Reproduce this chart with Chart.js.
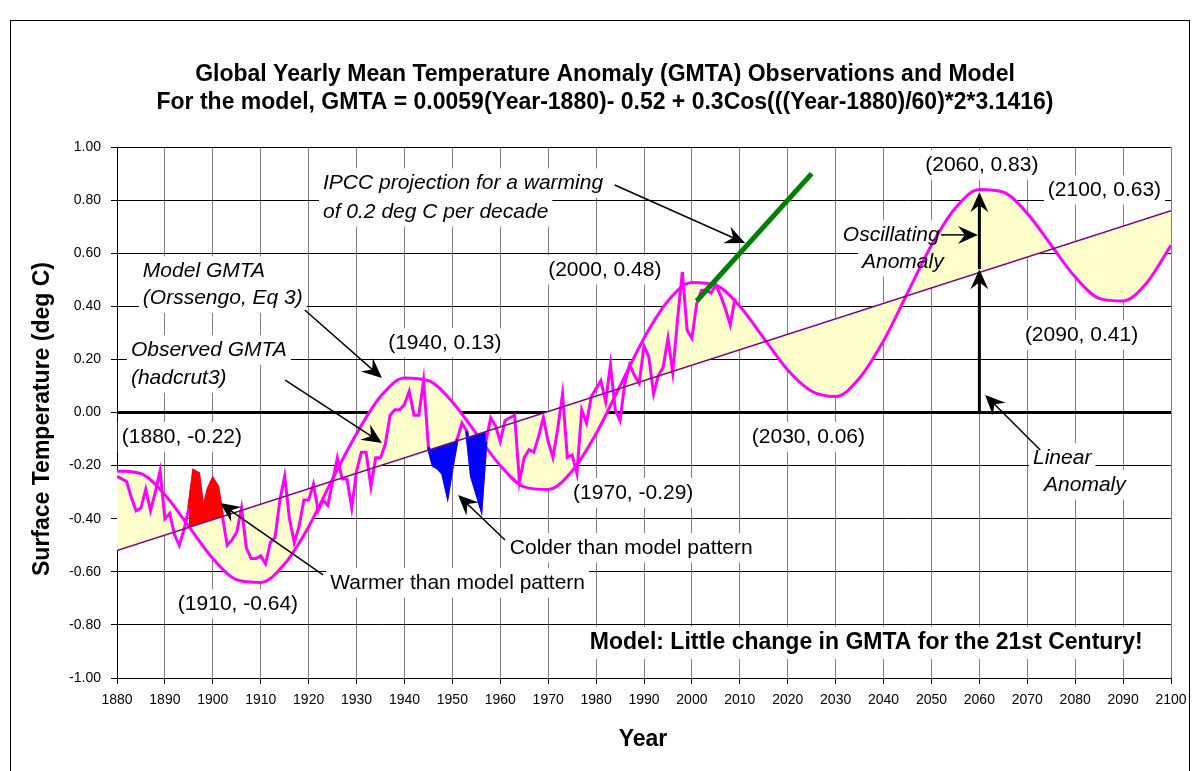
<!DOCTYPE html>
<html>
<head>
<meta charset="utf-8">
<script src="https://cdn.jsdelivr.net/npm/chart.js@4.4.0/dist/chart.umd.min.js"></script>
<style>
  html, body { margin: 0; padding: 0; background: #fff; }
</style>
</head>
<body>
<canvas id="myChart" width="1196" height="771"></canvas>
<script>
// observed GMTA (hadcrut3), one value per year from 1880
const obsStart = 1880;
const obsValues = [
  -0.24, -0.25, -0.26, -0.32, -0.37, -0.36, -0.29, -0.37, -0.30, -0.22,
  -0.40, -0.38, -0.46, -0.50, -0.44, -0.36, -0.22, -0.23, -0.37, -0.29,
  -0.25, -0.28, -0.39, -0.50, -0.48, -0.45, -0.36, -0.51, -0.55, -0.55,
  -0.54, -0.57, -0.49, -0.47, -0.33, -0.24, -0.40, -0.49, -0.43, -0.33,
  -0.33, -0.27, -0.37, -0.33, -0.35, -0.26, -0.17, -0.25, -0.25, -0.36,
  -0.22, -0.15, -0.15, -0.28, -0.17, -0.17, -0.12, -0.01, 0.01, 0.01,
  0.03, 0.08, -0.01, -0.01, 0.12, -0.13, -0.20, -0.21, -0.23, -0.31,
  -0.20, -0.10, -0.04, -0.07, -0.24, -0.30, -0.36, -0.11, -0.02, -0.05,
  -0.11, -0.03, -0.02, -0.01, -0.26, -0.17, -0.14, -0.15, -0.09, -0.02,
  -0.11, -0.17, -0.06, 0.07, -0.17, -0.16, -0.23, 0.01, -0.04, 0.06,
  0.09, 0.12, 0.04, 0.18, 0.01, -0.03, 0.11, 0.18, 0.14, 0.11,
  0.25, 0.21, 0.07, 0.14, 0.17, 0.28, 0.15, 0.35, 0.53, 0.31,
  0.28, 0.41, 0.46, 0.46, 0.45, 0.48, 0.44, 0.39, 0.33, 0.43
];

// model GMTA read every 5 years from 1880 to 2100
const modelStart = 1880;
const modelStep = 5;
const modelValues = [
  -0.22, -0.23, -0.31, -0.43, -0.55, -0.63, -0.64, -0.57, -0.43, -0.25,
  -0.08, 0.06, 0.13, 0.12, 0.04, -0.08, -0.20, -0.28, -0.29, -0.22,
  -0.08, 0.10, 0.28, 0.42, 0.49, 0.48, 0.40, 0.28, 0.16, 0.08,
  0.06, 0.13, 0.27, 0.45, 0.63, 0.77, 0.84, 0.83, 0.75, 0.63,
  0.51, 0.43, 0.42, 0.49, 0.63
];

// linear anomaly line
const linearYears = [1880, 2100];
const linearValues = [-0.52, 0.76];

// IPCC projection, 0.2 deg C per decade
const ipccYears = [2001, 2025];
const ipccValues = [0.42, 0.90];

// highlighted patterns
const warmYears = [1895, 1902];
const coldYears1 = [1945, 1951];
const coldYears2 = [1953, 1957];

const FONT = "'Liberation Sans', Arial, Helvetica, sans-serif";

function obsPoints(from, to) {
  const pts = [];
  obsValues.forEach((v, i) => {
    const yr = obsStart + i;
    if (yr >= from && yr <= to) pts.push({ x: yr, y: v });
  });
  return pts;
}
const observed = obsPoints(1880, 2100);
const model = modelValues.map((v, i) => ({ x: modelStart + i * modelStep, y: v }));
const linear = linearYears.map((yr, i) => ({ x: yr, y: linearValues[i] }));
const ipcc = ipccYears.map((yr, i) => ({ x: yr, y: ipccValues[i] }));

// annotation texts, positions in data units (year, deg C)
const notes = [
  { text: "IPCC projection for a warming", x: 1923, y: 0.864, style: "italic" },
  { text: "of 0.2 deg C per decade", x: 1923, y: 0.755, style: "italic" },
  { text: "Model GMTA", x: 1885.4, y: 0.533, style: "italic" },
  { text: "(Orssengo, Eq 3)", x: 1885.4, y: 0.431, style: "italic" },
  { text: "Observed GMTA", x: 1882.9, y: 0.235, style: "italic" },
  { text: "(hadcrut3)", x: 1882.9, y: 0.13, style: "italic" },
  { text: "(1940, 0.13)", x: 1936.6, y: 0.262 },
  { text: "(2000, 0.48)", x: 1970, y: 0.537 },
  { text: "(1880, -0.22)", x: 1881, y: -0.092 },
  { text: "(1910, -0.64)", x: 1892.7, y: -0.721 },
  { text: "(1970, -0.29)", x: 1975.2, y: -0.303 },
  { text: "(2030, 0.06)", x: 2012.5, y: -0.092 },
  { text: "(2060, 0.83)", x: 2048.7, y: 0.932 },
  { text: "(2100, 0.63)", x: 2074.3, y: 0.838 },
  { text: "(2090, 0.41)", x: 2069.5, y: 0.292 },
  { text: "Oscillating", x: 2031.5, y: 0.669, style: "italic" },
  { text: "Anomaly", x: 2035.5, y: 0.567, style: "italic" },
  { text: "Linear", x: 2071.2, y: -0.171, style: "italic" },
  { text: "Anomaly", x: 2073.5, y: -0.273, style: "italic" },
  { text: "Warmer than model pattern", x: 1924.5, y: -0.642 },
  { text: "Colder than model pattern", x: 1962, y: -0.51 },
  { text: "Model: Little change in GMTA for the 21st Century!", x: 1978.7, y: -0.868, style: "bold", size: 23 }
];

const arrows = [
  { x1: 1983.9, y1: 0.857, x2: 2011.1, y2: 0.638 },
  { x1: 1919.2, y1: 0.386, x2: 1935.3, y2: 0.13 },
  { x1: 1915.1, y1: 0.122, x2: 1935.3, y2: -0.115 },
  { x1: 1923, y1: -0.612, x2: 1901.5, y2: -0.341 },
  { x1: 1961, y1: -0.48, x2: 1951.2, y2: -0.311 },
  { x1: 2052, y1: 0.669, x2: 2059.7, y2: 0.669 },
  { x1: 2072.7, y1: -0.141, x2: 2061.2, y2: 0.066 },
  { x1: 2060, y1: 0, x2: 2060, y2: 0.54 },
  { x1: 2060, y1: 0.54, x2: 2060, y2: 0.83 }
];

function noteFont(n) {
  const size = n.size || 21;
  return (n.style ? n.style + " " : "") + size + "px " + FONT;
}

const textBoxes = {
  id: "textBoxes",
  beforeDatasetsDraw(chart) {
    const ctx = chart.ctx;
    const xs = chart.scales.x, ys = chart.scales.y;
    ctx.save();
    ctx.fillStyle = "#fff";
    notes.forEach((n) => {
      ctx.font = noteFont(n);
      const w = ctx.measureText(n.text).width;
      const size = n.size || 21;
      const px = xs.getPixelForValue(n.x);
      const py = ys.getPixelForValue(n.y);
      ctx.fillRect(px - 4, py - size * 0.7, w + 8, size * 1.4);
    });
    ctx.restore();
  },
  afterDraw(chart) {
    const ctx = chart.ctx;
    const xs = chart.scales.x, ys = chart.scales.y;
    ctx.save();
    ctx.fillStyle = "#000";
    ctx.textBaseline = "middle";
    ctx.textAlign = "left";
    notes.forEach((n) => {
      ctx.font = noteFont(n);
      ctx.fillText(n.text, xs.getPixelForValue(n.x), ys.getPixelForValue(n.y));
    });

    // arrows
    ctx.strokeStyle = "#000";
    arrows.forEach((a) => {
      const x1 = xs.getPixelForValue(a.x1), y1 = ys.getPixelForValue(a.y1);
      const x2 = xs.getPixelForValue(a.x2), y2 = ys.getPixelForValue(a.y2);
      const ang = Math.atan2(y2 - y1, x2 - x1);
      const len = 20, half = 9;
      ctx.lineWidth = (a.x1 === a.x2) ? 3 : 1.5;
      ctx.beginPath();
      ctx.moveTo(x1, y1);
      ctx.lineTo(x2 - Math.cos(ang) * 10, y2 - Math.sin(ang) * 10);
      ctx.stroke();
      const bx = x2 - Math.cos(ang) * len, by = y2 - Math.sin(ang) * len;
      const nx = x2 - Math.cos(ang) * len * 0.65, ny = y2 - Math.sin(ang) * len * 0.65;
      ctx.beginPath();
      ctx.moveTo(x2, y2);
      ctx.lineTo(bx + Math.sin(ang) * half, by - Math.cos(ang) * half);
      ctx.lineTo(nx, ny);
      ctx.lineTo(bx - Math.sin(ang) * half, by + Math.cos(ang) * half);
      ctx.closePath();
      ctx.fill();
    });

    // titles
    ctx.textAlign = "center";
    ctx.font = "bold 23px " + FONT;
    ctx.fillText("Global Yearly Mean Temperature Anomaly (GMTA) Observations and Model", 605, 75);
    ctx.fillText("For the model, GMTA = 0.0059(Year-1880)- 0.52 + 0.3Cos(((Year-1880)/60)*2*3.1416)", 605, 103);
    ctx.fillText("Year", 643, 740);
    ctx.translate(43, 419);
    ctx.rotate(-Math.PI / 2);
    ctx.fillText("Surface Temperature (deg C)", 0, 0);
    ctx.restore();

    // outer frame
    ctx.save();
    ctx.strokeStyle = "#000";
    ctx.lineWidth = 1;
    ctx.strokeRect(10.5, 20.5, 1179, 800);
    ctx.restore();
  }
};

const whiteBg = {
  id: "whiteBg",
  beforeDraw(chart) {
    const ctx = chart.ctx;
    ctx.save();
    ctx.fillStyle = "#fff";
    ctx.fillRect(0, 0, chart.width, chart.height);
    ctx.restore();
  }
};

const ctx = document.getElementById("myChart");
const myChart = new Chart(ctx, {
  type: "line",
  data: {
    datasets: [
      {
        label: "Linear",
        data: linear,
        borderColor: "#800080",
        borderWidth: 1.5,
        pointRadius: 0,
        fill: false,
        order: 2,
      },
      {
        label: "Model GMTA",
        data: model,
        borderColor: "#FF00FF",
        borderWidth: 3,
        pointRadius: 0,
        cubicInterpolationMode: "monotone",
        fill: { target: 0, above: "#FFFFCC", below: "#FFFFCC" },
        order: 10,
      },
      {
        label: "Observed GMTA",
        data: observed,
        borderColor: "#FF00FF",
        borderWidth: 3,
        pointRadius: 0,
        fill: false,
        order: 5,
      },
      {
        label: "Warmer",
        data: obsPoints(warmYears[0], warmYears[1]),
        borderColor: "#FF0000",
        borderWidth: 3,
        pointRadius: 0,
        fill: { target: 0, above: "#FF0000", below: "rgba(0,0,0,0)" },
        order: 4,
      },
      {
        label: "Colder 1",
        data: obsPoints(coldYears1[0], coldYears1[1]),
        borderColor: "#0000FF",
        borderWidth: 3,
        pointRadius: 0,
        fill: { target: 0, above: "rgba(0,0,0,0)", below: "#0000FF" },
        order: 4,
      },
      {
        label: "Colder 2",
        data: obsPoints(coldYears2[0], coldYears2[1]),
        borderColor: "#0000FF",
        borderWidth: 3,
        pointRadius: 0,
        fill: { target: 0, above: "rgba(0,0,0,0)", below: "#0000FF" },
        order: 4,
      },
      {
        label: "IPCC",
        data: ipcc,
        borderColor: "#008000",
        borderWidth: 5,
        pointRadius: 0,
        fill: false,
        order: 1,
      },
    ],
  },
  options: {
    responsive: false,
    animation: false,
    layout: { padding: { top: 147, right: 25, left: 0, bottom: 0 } },
    plugins: {
      legend: { display: false },
      tooltip: { enabled: false },
      title: { display: false },
    },
    scales: {
      x: {
        type: "linear",
        min: 1880,
        max: 2100,
        afterFit: (s) => { s.height = 93; },
        ticks: {
          stepSize: 10,
          color: "#000",
          font: { family: FONT, size: 14 },
          padding: 8,
          maxRotation: 0,
          callback: (v) => String(v),
        },
        grid: { color: "#808080", tickColor: "#000", tickLength: 6, lineWidth: 1 },
        border: { color: "#000", width: 1 },
      },
      y: {
        min: -1,
        max: 1,
        afterFit: (s) => { s.width = 117; },
        ticks: {
          stepSize: 0.2,
          color: "#000",
          font: { family: FONT, size: 14 },
          padding: 10,
          callback: (v) => (Math.abs(v) < 1e-9 ? 0 : v).toFixed(2),
        },
        grid: {
          color: "#000",
          tickColor: "#000",
          tickLength: 6,
          tickWidth: 1,
          lineWidth: (c) => (c.tick && Math.abs(c.tick.value) < 1e-9 ? 3 : 1),
        },
        border: { color: "#000", width: 1 },
      },
    },
  },
  plugins: [whiteBg, textBoxes],
});
</script>
</body>
</html>
